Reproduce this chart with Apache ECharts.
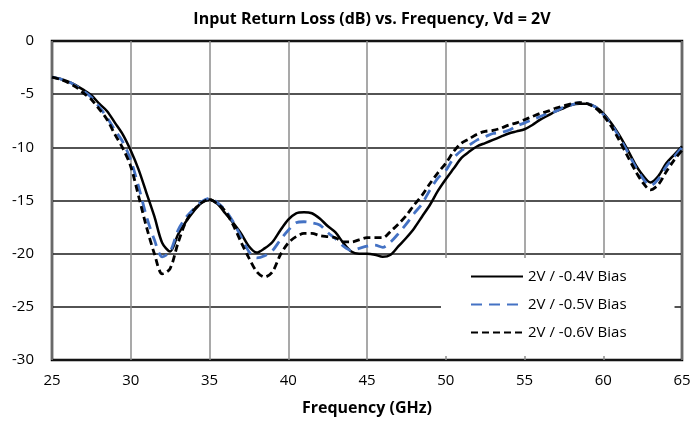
<!DOCTYPE html>
<html>
<head>
<meta charset="utf-8">
<script src="https://cdn.jsdelivr.net/npm/echarts@6/dist/echarts.min.js"></script>
<style>
  html, body { margin: 0; padding: 0; background: #fff; }
  #chart { width: 695px; height: 424px; }
</style>
</head>
<body>
<div id="chart"></div>
<script>
// frequency points (GHz), every 0.5 GHz from 25 to 65
var freq = [];
for (var f = 25; f <= 65; f += 0.5) freq.push(f);

var seriesNames = ['2V / -0.4V Bias', '2V / -0.5V Bias', '2V / -0.6V Bias'];

// input return loss (dB)
var rl04 = [
  -3.4, -3.55, -3.8, -4.15, -4.6, -5.1, -5.9, -6.6, -7.7, -8.8,
  -10.3, -12.1, -14.3, -16.5, -19.0, -19.8, -18.2, -17.0, -16.0, -15.2,
  -14.9, -15.3, -16.2, -17.1, -18.1, -19.3, -19.9, -19.5, -18.9, -17.8,
  -16.8, -16.2, -16.1, -16.2, -16.7, -17.4, -18.0, -19.0, -19.8, -20.0,
  -20.0, -20.1, -20.3, -20.1, -19.3, -18.5, -17.6, -16.5, -15.4, -14.1,
  -13.0, -12.0, -11.0, -10.4, -9.9, -9.6, -9.3, -9.0, -8.7, -8.5,
  -8.3, -7.9, -7.4, -7.0, -6.6, -6.3, -6.0, -5.9, -5.9, -6.2,
  -6.8, -7.7, -8.8, -10.1, -11.5, -12.6, -13.3, -12.7, -11.5, -10.7,
  -9.9
];
var rl05 = [
  -3.4, -3.55, -3.8, -4.2, -4.7, -5.3, -6.2, -7.2, -8.4, -9.5,
  -11.2, -13.7, -16.5, -18.7, -20.3, -19.8, -17.8, -16.6, -15.8, -15.1,
  -14.8, -15.2, -15.9, -17.0, -18.4, -19.8, -20.4, -20.2, -19.7, -18.7,
  -17.8, -17.1, -17.0, -17.1, -17.3, -18.0, -18.6, -19.3, -19.7, -19.5,
  -19.3, -19.2, -19.4, -18.9, -18.1, -17.2, -16.2, -15.3, -14.0, -12.9,
  -12.2, -11.0, -10.3, -9.8, -9.3, -9.0, -8.7, -8.6, -8.4, -8.0,
  -7.7, -7.4, -7.1, -6.8, -6.6, -6.2, -6.0, -5.8, -5.9, -6.2,
  -6.9, -7.8, -9.0, -10.3, -11.7, -12.9, -13.6, -13.0, -11.8, -10.9,
  -10.0
];
var rl06 = [
  -3.4, -3.6, -3.9, -4.3, -4.9, -5.5, -6.4, -7.4, -8.8, -10.1,
  -11.8, -14.6, -17.5, -20.0, -21.9, -21.4, -19.0, -17.0, -15.9, -15.2,
  -14.9, -15.3, -16.0, -17.3, -18.9, -20.4, -21.7, -22.2, -21.7, -20.1,
  -19.0, -18.4, -18.1, -18.1, -18.3, -18.4, -18.5, -18.9, -18.9, -18.7,
  -18.5, -18.5, -18.5, -17.9, -17.2, -16.4, -15.4, -14.5, -13.4, -12.4,
  -11.5, -10.4, -9.6, -9.2, -8.75, -8.5, -8.4, -8.2, -7.9, -7.7,
  -7.4, -7.1, -6.8, -6.6, -6.3, -6.1, -5.9, -5.8, -5.9, -6.3,
  -7.0, -8.0, -9.3, -10.7, -12.1, -13.3, -14.0, -13.5, -12.3, -11.2,
  -10.3
];

function pairs(ys) {
  return freq.map(function (x, i) { return [x, ys[i]]; });
}

var font = '"Open Sans", Lato, sans-serif';
var chart = echarts.init(document.getElementById('chart'));
chart.setOption({
  backgroundColor: '#fff',
  animation: false,
  title: {
    text: 'Input Return Loss (dB) vs. Frequency, Vd = 2V',
    left: 367,
    textAlign: 'center',
    top: 6,
    textStyle: { fontFamily: font, fontSize: 16, fontWeight: 'bold', color: '#000' }
  },
  grid: {
    left: 52, right: 13, top: 41, bottom: 64,
    show: true, borderColor: '#000', borderWidth: 2.5, backgroundColor: 'transparent'
  },
  legend: {
    orient: 'vertical',
    left: 441,
    top: 258,
    padding: [11, 48, 16, 29],
    backgroundColor: '#fff',
    itemWidth: 52,
    itemHeight: 14,
    itemGap: 13,
    itemStyle: { opacity: 0 },
    textStyle: { fontFamily: font, fontSize: 15, color: '#000' },
    data: seriesNames
  },
  xAxis: {
    type: 'value',
    min: 25, max: 65, interval: 5,
    name: 'Frequency (GHz)',
    nameLocation: 'middle',
    nameGap: 40,
    nameTextStyle: { fontFamily: font, fontSize: 16, fontWeight: 'bold', color: '#000' },
    axisLine: { show: false },
    axisTick: { show: false },
    axisLabel: { fontFamily: font, fontSize: 15, color: '#000', margin: 13 },
    splitLine: { show: true, lineStyle: { color: '#8c8c8c', width: 1.5 } }
  },
  yAxis: {
    type: 'value',
    min: -30, max: 0, interval: 5,
    axisLine: { show: false },
    axisTick: { show: false },
    axisLabel: { fontFamily: font, fontSize: 15, color: '#000', margin: 18 },
    splitLine: { show: true, lineStyle: { color: '#1a1a1a', width: 1.5 } }
  },
  series: [
    {
      name: seriesNames[0], type: 'line', data: pairs(rl04),
      symbol: 'none', smooth: 0.3,
      lineStyle: { color: '#000', width: 2.5, type: 'solid' },
      itemStyle: { color: '#000' }
    },
    {
      name: seriesNames[1], type: 'line', data: pairs(rl05),
      symbol: 'none', smooth: 0.3,
      lineStyle: { color: '#4472C4', width: 2.8, type: [11, 7] },
      itemStyle: { color: '#4472C4' }
    },
    {
      name: seriesNames[2], type: 'line', data: pairs(rl06),
      symbol: 'none', smooth: 0.3,
      lineStyle: { color: '#000', width: 2.8, type: [7, 4] },
      itemStyle: { color: '#000' }
    }
  ]
});
</script>
</body>
</html>
